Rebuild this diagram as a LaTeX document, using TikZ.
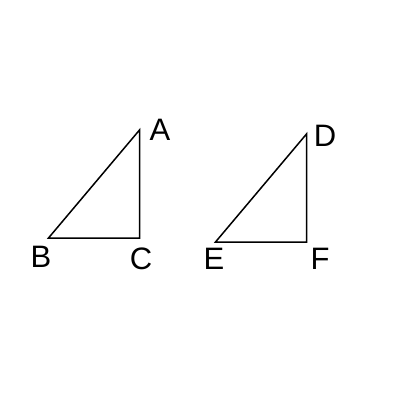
\documentclass[tikz,border=0pt]{standalone}
\usepackage{fontspec}
\setmainfont{Liberation Sans}
\begin{document}
\begin{tikzpicture}[x=1pt,y=-1pt,
  edge/.style={line width=1.5pt,line join=miter},
  lbl/.style={font=\fontsize{31}{34}\selectfont,inner sep=0pt}]
\useasboundingbox (0,0) rectangle (400,400);
\coordinate (A) at (139.5,130);
\coordinate (B) at (48.5,238);
\coordinate (C) at (139.5,238);
\coordinate (D) at (306.5,134);
\coordinate (E) at (215.5,242);
\coordinate (F) at (306.5,242);
\draw[edge] (A) -- (B) -- (C) -- cycle;
\draw[edge] (D) -- (E) -- (F) -- cycle;
\node[lbl] (lA) at (160,130) {A};
\node[lbl] (lB) at (41,257) {B};
\node[lbl] (lC) at (141,259) {C};
\node[lbl] (lD) at (325,136) {D};
\node[lbl] (lE) at (214,259) {E};
\node[lbl] (lF) at (320,259) {F};
\end{tikzpicture}
\end{document}
